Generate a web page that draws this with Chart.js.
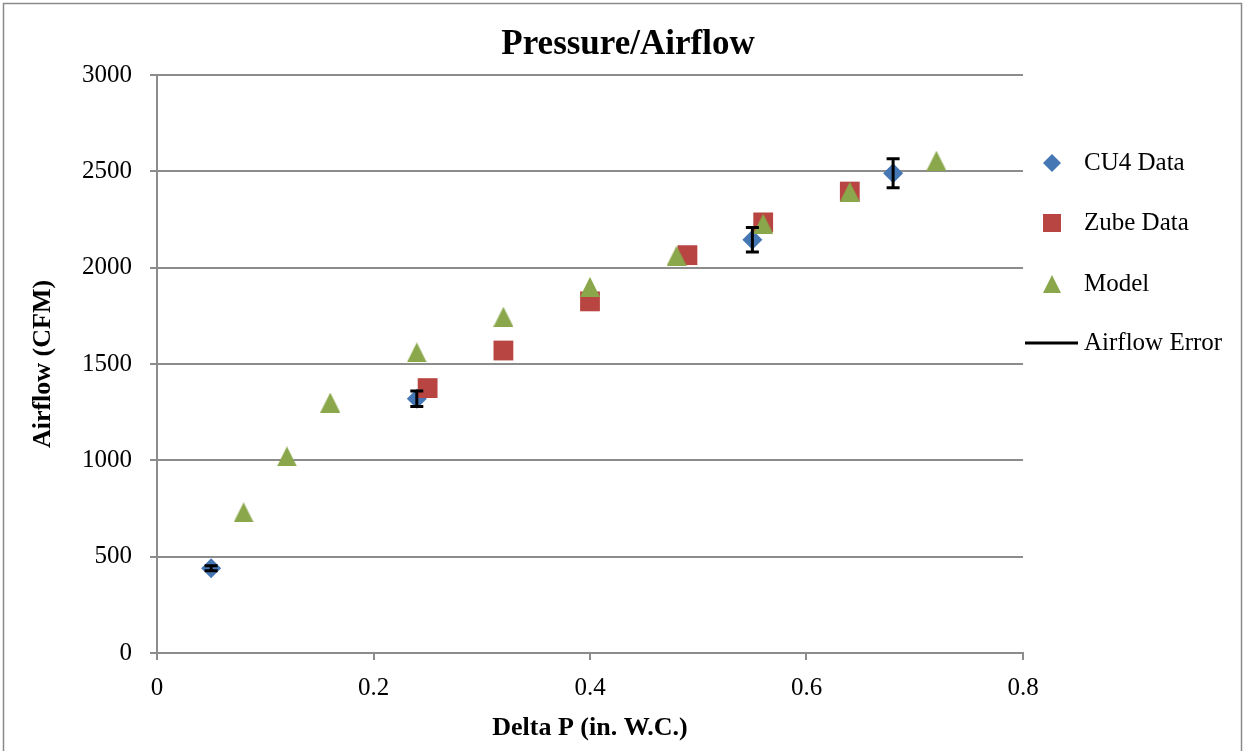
<!DOCTYPE html>
<html lang="en">
<head>
<meta charset="UTF-8">
<title>Pressure/Airflow</title>
<script src="https://cdn.jsdelivr.net/npm/chart.js"></script>
<style>
    html, body {
        margin: 0;
        padding: 0;
        background: #fff;
    }
    #wrap {
        width: 1246px;
        height: 751px;
    }
</style>
</head>
<body>
<div id="wrap"><canvas id="grafico" width="1246" height="751"></canvas></div>
<script>
    // datos
    const cu4X = [0.05, 0.24, 0.55, 0.68];
    const cu4Y = [440, 1320, 2145, 2490];
    const cu4Err = [13, 40, 64, 75];

    const zubeX = [0.25, 0.32, 0.40, 0.49, 0.56, 0.64];
    const zubeY = [1375, 1570, 1825, 2065, 2235, 2395];

    const modelX = [0.08, 0.12, 0.16, 0.24, 0.32, 0.40, 0.48, 0.56, 0.64, 0.72];
    const modelY = [730, 1020, 1300, 1560, 1745, 1900, 2062, 2228, 2394, 2555];

    const seriesNames = ['CU4 Data', 'Zube Data', 'Model', 'Airflow Error'];
    const xTicks = [0, 0.2, 0.4, 0.6, 0.8];
    const yTicks = [0, 500, 1000, 1500, 2000, 2500, 3000];

    const AZUL = '#4577b5';
    const ROJO = '#b84541';
    const VERDE = '#8aa84b';
    const GRIS = '#8c8c8c';
    const FUENTE = '"Liberation Serif", "DejaVu Serif", serif';

    function puntos(xs, ys) {
        return xs.map((x, i) => ({ x: x, y: ys[i] }));
    }

    // triangulo centrado en su caja, como en Excel
    function trianguloImg(lado, color) {
        const c = document.createElement('canvas');
        c.width = lado;
        c.height = lado;
        const g = c.getContext('2d');
        g.fillStyle = color;
        g.beginPath();
        g.moveTo(lado / 2, 0);
        g.lineTo(lado, lado);
        g.lineTo(0, lado);
        g.closePath();
        g.fill();
        return c;
    }

    // marcador simple para la leyenda
    function marcador(ctx, tipo, x, y, r) {
        ctx.beginPath();
        if (tipo === 'rectRot') {
            ctx.moveTo(x, y - r);
            ctx.lineTo(x + r, y);
            ctx.lineTo(x, y + r);
            ctx.lineTo(x - r, y);
        } else if (tipo === 'rect') {
            ctx.rect(x - r, y - r, 2 * r, 2 * r);
        } else {
            ctx.moveTo(x, y - r);
            ctx.lineTo(x + r, y + r);
            ctx.lineTo(x - r, y + r);
        }
        ctx.closePath();
        ctx.fill();
    }

    const fondo = {
        id: 'fondo',
        beforeDraw(chart) {
            const ctx = chart.ctx;
            ctx.save();
            ctx.fillStyle = '#fff';
            ctx.fillRect(0, 0, chart.width, chart.height);
            ctx.strokeStyle = '#8a8a8a';
            ctx.lineWidth = 1.5;
            ctx.strokeRect(3.5, 3.5, 1238, 800);
            ctx.fillStyle = '#000';
            ctx.font = 'bold 35px ' + FUENTE;
            ctx.textAlign = 'center';
            ctx.textBaseline = 'middle';
            ctx.fillText('Pressure/Airflow', 628, 45);
            ctx.restore();
        }
    };

    const barrasError = {
        id: 'barrasError',
        afterDatasetsDraw(chart) {
            const ctx = chart.ctx;
            const sx = chart.scales.x;
            const sy = chart.scales.y;
            ctx.save();
            ctx.strokeStyle = '#000';
            ctx.lineWidth = 3;
            cu4X.forEach((xv, i) => {
                const px = sx.getPixelForValue(xv);
                const top = sy.getPixelForValue(cu4Y[i] + cu4Err[i]);
                const bot = sy.getPixelForValue(cu4Y[i] - cu4Err[i]);
                ctx.beginPath();
                ctx.moveTo(px, top);
                ctx.lineTo(px, bot);
                ctx.moveTo(px - 6.5, top);
                ctx.lineTo(px + 6.5, top);
                ctx.moveTo(px - 6.5, bot);
                ctx.lineTo(px + 6.5, bot);
                ctx.stroke();
            });
            ctx.restore();
        }
    };

    const leyenda = {
        id: 'leyenda',
        afterDraw(chart) {
            const ctx = chart.ctx;
            const tipos = ['rectRot', 'rect', 'triangle'];
            const colores = [AZUL, ROJO, VERDE];
            const filasY = [163, 223, 284, 343];
            ctx.save();
            ctx.font = '25px ' + FUENTE;
            ctx.textBaseline = 'middle';
            ctx.textAlign = 'left';
            for (let i = 0; i < 3; i++) {
                ctx.fillStyle = colores[i];
                marcador(ctx, tipos[i], 1052, filasY[i], 9);
                ctx.fillStyle = '#000';
                ctx.fillText(seriesNames[i], 1084, filasY[i]);
            }
            ctx.strokeStyle = '#000';
            ctx.lineWidth = 3;
            ctx.beginPath();
            ctx.moveTo(1025, filasY[3]);
            ctx.lineTo(1078, filasY[3]);
            ctx.stroke();
            ctx.fillStyle = '#000';
            ctx.fillText(seriesNames[3], 1084, filasY[3]);
            ctx.restore();
        }
    };

    const ctx = document.getElementById('grafico').getContext('2d');

    new Chart(ctx, {
        type: 'scatter',
        data: {
            datasets: [
                {
                    label: seriesNames[0],
                    data: puntos(cu4X, cu4Y),
                    pointStyle: 'rectRot',
                    pointRadius: 10,
                    pointHoverRadius: 10,
                    backgroundColor: AZUL,
                    borderWidth: 0,
                    order: 2
                },
                {
                    label: seriesNames[1],
                    data: puntos(zubeX, zubeY),
                    pointStyle: 'rect',
                    pointRadius: 14,
                    pointHoverRadius: 14,
                    backgroundColor: ROJO,
                    borderWidth: 0,
                    order: 1
                },
                {
                    label: seriesNames[2],
                    data: puntos(modelX, modelY),
                    pointStyle: trianguloImg(20, VERDE),
                    pointRadius: 10,
                    pointHoverRadius: 10,
                    backgroundColor: VERDE,
                    borderWidth: 0,
                    order: 0
                }
            ]
        },
        options: {
            responsive: false,
            animation: false,
            devicePixelRatio: 1,
            layout: {
                padding: { left: 0, right: 223, top: 75, bottom: 0 }
            },
            plugins: {
                legend: { display: false },
                tooltip: { enabled: false },
                title: { display: false }
            },
            scales: {
                x: {
                    type: 'linear',
                    min: 0,
                    max: 0.8,
                    afterBuildTicks: (s) => { s.ticks = xTicks.map(v => ({ value: v })); },
                    afterFit: (s) => { s.height = 98; },
                    ticks: {
                        color: '#000',
                        font: { family: FUENTE, size: 25 },
                        padding: 13.5,
                        maxRotation: 0,
                        callback: (v) => String(+v.toFixed(1))
                    },
                    grid: {
                        drawOnChartArea: false,
                        drawTicks: true,
                        tickLength: 7,
                        color: GRIS,
                        lineWidth: 2
                    },
                    border: { color: GRIS, width: 2 },
                    title: {
                        display: true,
                        text: 'Delta P (in. W.C.)',
                        color: '#000',
                        font: { family: FUENTE, size: 26, weight: 'bold' },
                        padding: { top: 0, bottom: 7.4 }
                    }
                },
                y: {
                    type: 'linear',
                    min: 0,
                    max: 3000,
                    afterBuildTicks: (s) => { s.ticks = yTicks.map(v => ({ value: v })); },
                    afterFit: (s) => { s.width = 157; },
                    ticks: {
                        color: '#000',
                        font: { family: FUENTE, size: 25 },
                        padding: 18,
                        callback: (v) => String(v)
                    },
                    grid: {
                        tickLength: 7,
                        color: GRIS,
                        lineWidth: 2
                    },
                    border: { color: GRIS, width: 2 },
                    title: {
                        display: true,
                        text: 'Airflow (CFM)',
                        color: '#000',
                        font: { family: FUENTE, size: 26, weight: 'bold' },
                        padding: { top: 27.4, bottom: 0 }
                    }
                }
            }
        },
        plugins: [fondo, barrasError, leyenda]
    });
</script>
</body>
</html>
